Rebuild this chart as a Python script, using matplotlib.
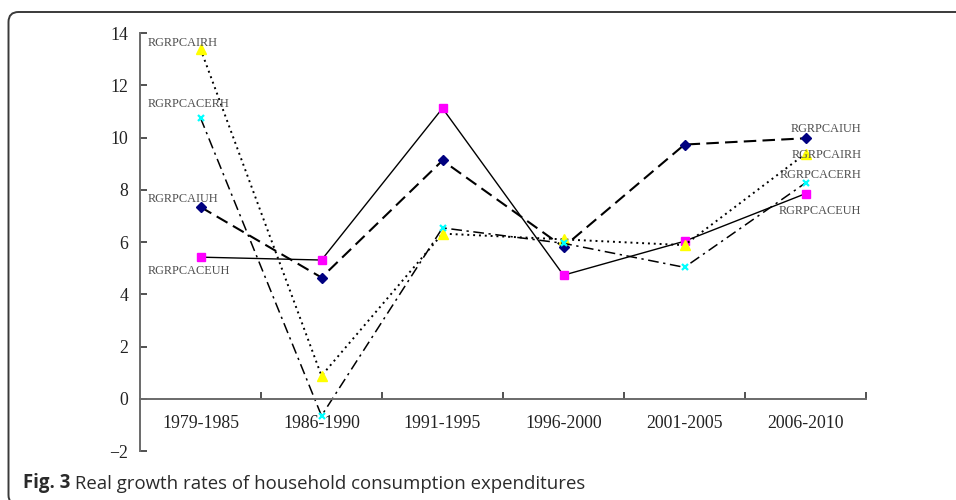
import matplotlib
matplotlib.use("Agg")
import matplotlib.pyplot as plt
from matplotlib.patches import FancyBboxPatch
from matplotlib.transforms import IdentityTransform
import numpy as np

periods = ["1979-1985", "1986-1990", "1991-1995", "1996-2000", "2001-2005", "2006-2010"]
rgrpcaceuh = [5.42, 5.31, 11.12, 4.73, 6.03, 7.85]
rgrpcaiuh = [7.34, 4.64, 9.12, 5.81, 9.73, 9.97]
rgrpcairh = [13.39, 0.88, 6.32, 6.10, 5.88, 9.38]
rgrpcacerh = [10.75, -0.65, 6.54, 5.95, 5.03, 8.26]
series_names = ["RGRPCACEUH", "RGRPCAIUH", "RGRPCAIRH", "RGRPCACERH"]
y_ticks = [-2, 0, 2, 4, 6, 8, 10, 12, 14]

W, H = 956, 500
fig = plt.figure(figsize=(W / 100, H / 100), dpi=100)
ax = fig.add_axes([140 / W, 1 - 451 / H, (866 - 140) / W, (451 - 33) / H])

x = np.arange(len(periods))
styles = [
    dict(color="black", lw=1.0, ls="-", marker="s", mfc="#FF00FF", mec="#FF00FF", ms=5.8),
    dict(color="black", lw=1.5, ls=(0, (6, 3)), marker="D", mfc="#000080", mec="#000080", ms=4.8),
    dict(color="black", lw=1.4, ls=(0, (1, 2)), marker="^", mfc="#FFFF00", mec="#FFFF00", ms=7.5),
    dict(color="black", lw=1.1, ls=(0, (7, 3, 1.5, 3)), marker="x", mfc="#00FFFF", mec="#00FFFF", ms=5, mew=1.6),
]
data = [rgrpcaceuh, rgrpcaiuh, rgrpcairh, rgrpcacerh]
for vals, st in zip(data, styles):
    ax.plot(x, vals, zorder=2, **st)

# end labels (offsets in pixels from first / last points)
left_off = [(-53, -14), (-53, 8), (-53, 6.3), (-53, 13.5)]
right_off = [(56, -17.7), (56, 9.4), (56, -1.7), (56, 7.7)]
lab_font = dict(family="Liberation Serif", fontsize=8.8, color="#505050")
for name, vals, lo, ro in zip(series_names, data, left_off, right_off):
    ax.annotate(name, xy=(x[0], vals[0]), xytext=lo, textcoords="offset pixels",
                ha="left", va="center", **lab_font)
    ax.annotate(name, xy=(x[-1], vals[-1]), xytext=ro, textcoords="offset pixels",
                ha="right", va="center", **lab_font)

ax.set_xlim(-0.5, len(periods) - 0.5)
ax.set_ylim(-2, 14)
ax.set_yticks(y_ticks)
ax.set_yticklabels([("\u2212" + str(-v)) if v < 0 else str(v) for v in y_ticks])

ax.set_xticks(np.arange(0.5, len(periods) - 0.5 + 0.01, 1.0))
ax.set_xticklabels([])
ax.set_xticks(x, minor=True)
ax.set_xticklabels(periods, minor=True)

for s in ["top", "right"]:
    ax.spines[s].set_visible(False)
ax.spines["bottom"].set_position(("data", 0))
for s in ["left", "bottom"]:
    ax.spines[s].set_color("#6a6a6a")
    ax.spines[s].set_linewidth(1.4)

ax.tick_params(axis="y", direction="in", length=5, width=1.2, color="#333333",
               pad=8.6, labelsize=12.8, labelcolor="#222222")
ax.tick_params(axis="x", which="major", direction="in", length=5, width=1.2, color="#333333")
ax.tick_params(axis="x", which="minor", length=0, pad=12, labelsize=12.8, labelcolor="#222222")
for lbl in ax.get_yticklabels() + ax.get_xticklabels(minor=True):
    lbl.set_family("Liberation Serif")
ax.patch.set_alpha(0)

# caption
t1 = fig.text(23 / W, 1 - 493 / H, "Fig. 3", family="Open Sans", weight="bold",
              fontsize=13.4, color="#2a2a2a", ha="left", va="bottom")
plt.annotate(" Real growth rates of household consumption expenditures",
             xy=(1, 0), xycoords=t1, ha="left", va="bottom", family="Open Sans",
             fontsize=13.4, color="#2a2a2a", annotation_clip=False)

# frame
frame = FancyBboxPatch((8.5, -5), 1100, H - 12 + 5, boxstyle="round,pad=0,rounding_size=10",
                       transform=IdentityTransform(), fill=False, ec="#3a3a3a", lw=1.4)
fig.patches.append(frame)

fig.savefig("out.png", dpi=100)
